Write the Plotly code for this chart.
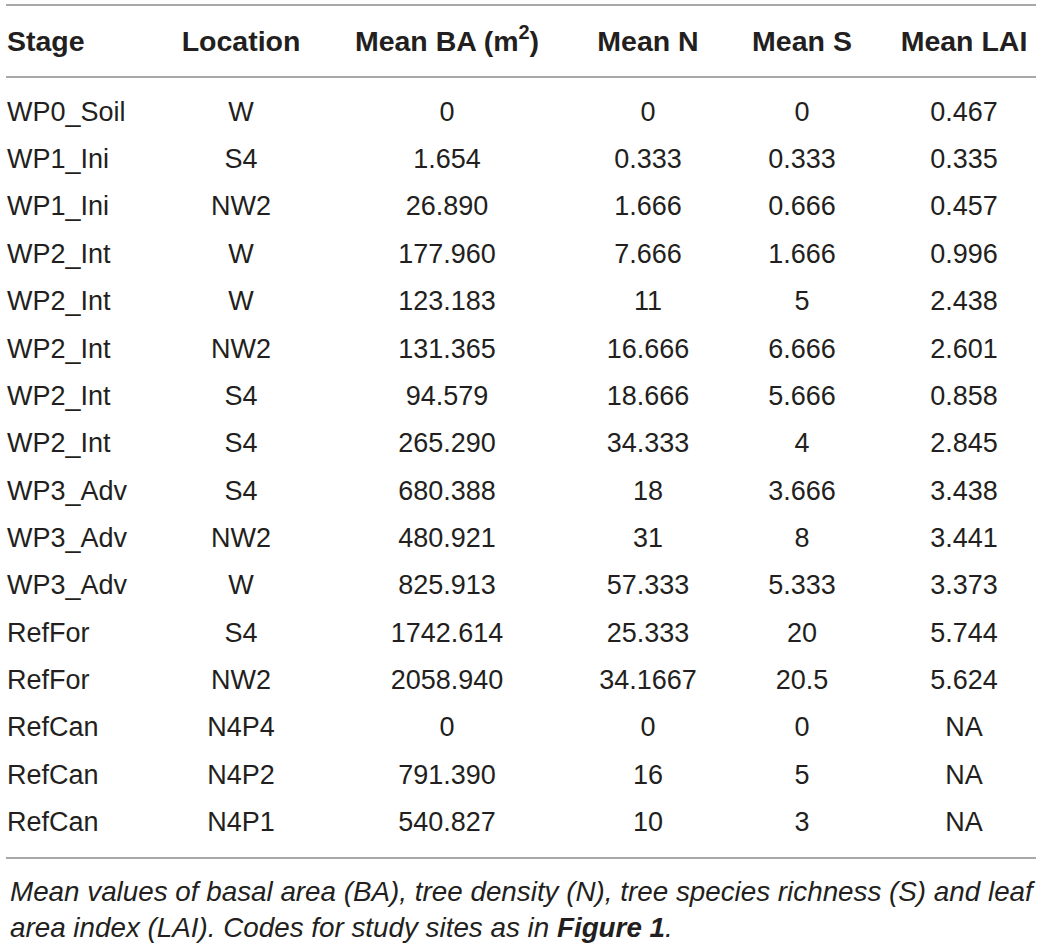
import plotly.graph_objects as go

# Table content
stage = ["WP0_Soil", "WP1_Ini", "WP1_Ini", "WP2_Int", "WP2_Int", "WP2_Int", "WP2_Int",
         "WP2_Int", "WP3_Adv", "WP3_Adv", "WP3_Adv", "RefFor", "RefFor", "RefCan",
         "RefCan", "RefCan"]
location = ["W", "S4", "NW2", "W", "W", "NW2", "S4", "S4", "S4", "NW2", "W", "S4",
            "NW2", "N4P4", "N4P2", "N4P1"]
mean_ba = ["0", "1.654", "26.890", "177.960", "123.183", "131.365", "94.579", "265.290",
           "680.388", "480.921", "825.913", "1742.614", "2058.940", "0", "791.390",
           "540.827"]
mean_n = ["0", "0.333", "1.666", "7.666", "11", "16.666", "18.666", "34.333", "18", "31",
          "57.333", "25.333", "34.1667", "0", "16", "10"]
mean_s = ["0", "0.333", "0.666", "1.666", "5", "6.666", "5.666", "4", "3.666", "8",
          "5.333", "20", "20.5", "0", "5", "3"]
mean_lai = ["0.467", "0.335", "0.457", "0.996", "2.438", "2.601", "0.858", "2.845",
            "3.438", "3.441", "3.373", "5.744", "5.624", "NA", "NA", "NA"]
headers = ["Stage", "Location", "Mean BA (m<sup>2</sup>)", "Mean N", "Mean S", "Mean LAI"]
caption = ("<i>Mean values of basal area (BA), tree density (N), tree species richness (S) and leaf"
           "<br>area index (LAI). Codes for study sites as in </i><b><i>Figure 1</i></b><i>.</i>")

# layout in page pixel units (axes span the whole page)
W, H = 1043, 944
col_x = [7, 241, 447, 648, 802, 964]
header_y = 44
row_y0, row_step = 114, 47.35
rows_y = [row_y0 + i * row_step for i in range(len(stage))]
rules_y = [5, 77, 858]
font = "Liberation Sans, Arial, sans-serif"
ink = "#231f20"

fig = go.Figure()

columns = [stage, location, mean_ba, mean_n, mean_s, mean_lai]
for i, col in enumerate(columns):
    # header cell
    fig.add_trace(go.Scatter(
        x=[col_x[i]], y=[header_y],
        text=["<b>" + headers[i] + "</b>"],
        mode="text",
        textposition="middle right" if i == 0 else "middle center",
        textfont=dict(family=font, size=28.5, color=ink),
        hoverinfo="skip", showlegend=False,
    ))
    # body cells
    fig.add_trace(go.Scatter(
        x=[col_x[i]] * len(col), y=rows_y,
        text=col,
        mode="text",
        textposition="middle right" if i == 0 else "middle center",
        textfont=dict(family=font, size=27, color=ink),
        hoverinfo="skip", showlegend=False,
    ))

for y in rules_y:
    fig.add_shape(type="line", x0=6, x1=1036, y0=y, y1=y, xref="x", yref="y",
                  line=dict(color="#a8a8a8", width=2))

fig.add_annotation(x=8, y=909, xref="x", yref="y", text=caption, showarrow=False,
                   xanchor="left", yanchor="middle", align="left",
                   font=dict(family=font, size=27.8, color=ink))

fig.update_layout(
    width=W, height=H,
    margin=dict(l=0, r=0, t=0, b=0),
    paper_bgcolor="white", plot_bgcolor="white",
    xaxis=dict(range=[0, W], visible=False, fixedrange=True),
    yaxis=dict(range=[H, 0], visible=False, fixedrange=True),
)

# drop the default body margin so figure pixels line up with the page
fig.write_html("out.html", config={"displayModeBar": False},
               post_script="document.body.style.margin='0px';")
